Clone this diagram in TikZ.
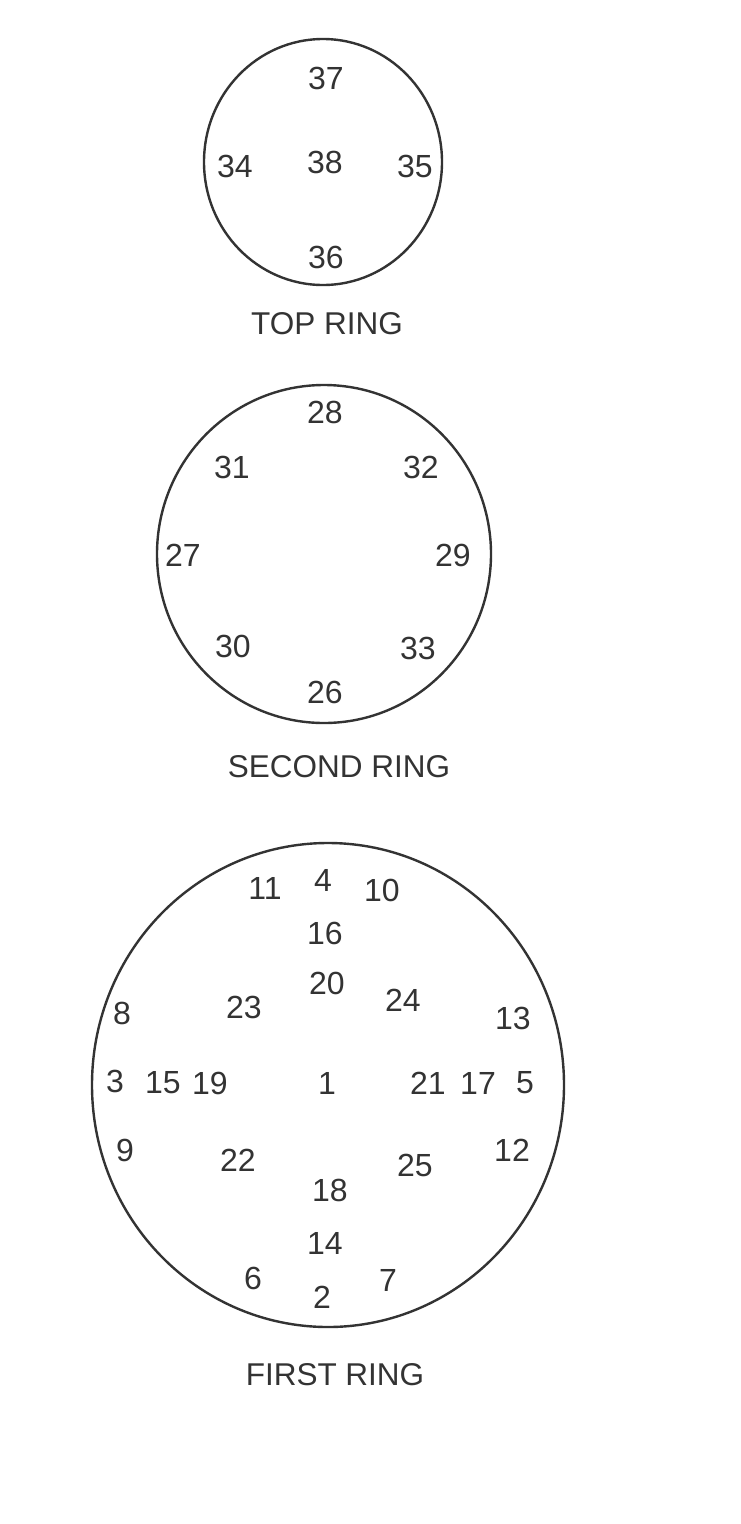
\documentclass[tikz,border=0pt]{standalone}
\usepackage{fontspec}
\setmainfont{Liberation Sans}
\begin{document}
\begin{tikzpicture}[x=1pt,y=-1pt,
  num/.style={inner sep=0pt,font=\fontsize{32}{32}\selectfont,text=black!80},
  ttl/.style={inner sep=0pt,font=\fontsize{31.5}{31.5}\selectfont,text=black!80},
  ring/.style={draw=black!80,line width=2.4pt}]
\useasboundingbox[fill=white] (0,0) rectangle (741,1524);
% top ring
\draw[ring] (323,162) ellipse [x radius=119,y radius=123];
\node[num] (n37) at (326,78) {37};
\node[num] (n38) at (325,162) {38};
\node[num] (n34) at (235,166) {34};
\node[num] (n35) at (415,166) {35};
\node[num] (n36) at (326,257) {36};
\node[ttl] (top) at (327,324) {TOP RING};
% second ring
\draw[ring] (324,554) ellipse [x radius=167,y radius=169];
\node[num] (n28) at (325,412) {28};
\node[num] (n31) at (232,467) {31};
\node[num] (n32) at (421,467) {32};
\node[num] (n27) at (183,555) {27};
\node[num] (n29) at (453,555) {29};
\node[num] (n30) at (233,646) {30};
\node[num] (n33) at (418,648) {33};
\node[num] (n26) at (325,692) {26};
\node[ttl] (second) at (339,767) {SECOND RING};
% first ring
\draw[ring] (328,1085) ellipse [x radius=236,y radius=242];
\node[num] (n11) at (265,888) {11};
\node[num] (n4) at (323,880) {4};
\node[num] (n10) at (382,890) {10};
\node[num] (n16) at (325,933) {16};
\node[num] (n20) at (327,983) {20};
\node[num] (n23) at (244,1007) {23};
\node[num] (n24) at (403,1000) {24};
\node[num] (n8) at (122,1013) {8};
\node[num] (n13) at (513,1018) {13};
\node[num] (n3) at (115,1081) {3};
\node[num] (n15) at (163,1083) {15};
\node[num] (n19) at (210,1083) {19};
\node[num] (n1) at (327,1083) {1};
\node[num] (n21) at (428,1083) {21};
\node[num] (n17) at (478,1083) {17};
\node[num] (n5) at (525,1083) {5};
\node[num] (n9) at (125,1150) {9};
\node[num] (n22) at (238,1160) {22};
\node[num] (n25) at (415,1165) {25};
\node[num] (n12) at (512,1150) {12};
\node[num] (n18) at (330,1190) {18};
\node[num] (n14) at (325,1243) {14};
\node[num] (n6) at (253,1278) {6};
\node[num] (n2) at (322,1297) {2};
\node[num] (n7) at (388,1280) {7};
\node[ttl] (first) at (335,1375) {FIRST RING};
\end{tikzpicture}
\end{document}
